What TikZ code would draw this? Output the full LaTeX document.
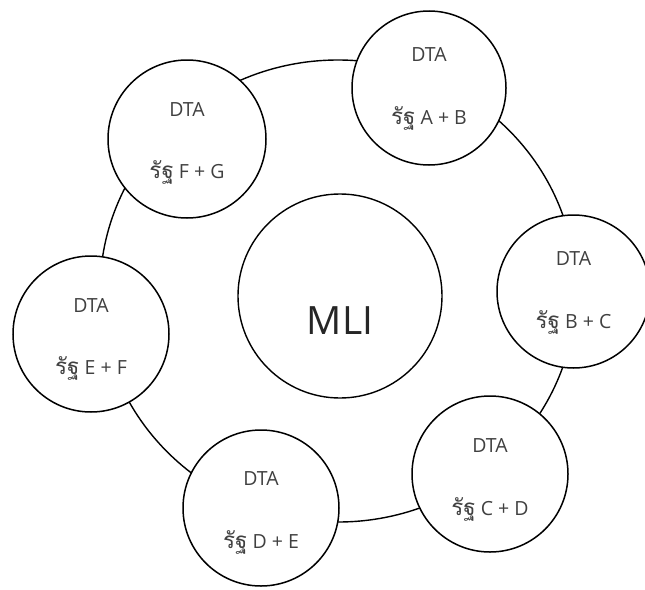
\documentclass[tikz,border=0pt]{standalone}
\usepackage{fontspec}
\setmainfont{Open Sans}
\newfontfamily\thaifont[Script=Thai,Scale=1.15]{Loma}
\usetikzlibrary{calc}
\begin{document}
\begin{tikzpicture}[x=1pt,y=-1pt,
  pact/.style={circle,draw=black,line width=1.5pt,fill=white,inner sep=0pt,minimum size=#1},
  hub/.style={circle,draw=black,line width=1.4pt,fill=white,inner sep=0pt,minimum size=204pt},
  ringline/.style={draw=black,line width=1.4pt},
  lbl/.style={text=black!75,font=\fontsize{19.5}{22}\selectfont,inner sep=0pt},
  biglbl/.style={text=black!85,font=\fontsize{39}{44}\selectfont,inner sep=0pt}]
\useasboundingbox (0,0) rectangle (645,589);
% the ring joining the bilateral agreements
\draw[ringline] (338,291) ellipse [x radius=238pt, y radius=231pt];
% central multilateral instrument
\node[hub] (mli) at (340,296) {};
\node[biglbl] (mlitext) at (340,321) {MLI};
% bilateral agreements around the ring
\node[pact=154pt] (ab) at (429,88) {};
\node[pact=153pt] (bc) at (573.5,291.5) {};
\node[pact=156pt] (cd) at (490,474) {};
\node[pact=156pt] (de) at (261,508) {};
\node[pact=156pt] (ef) at (91,334) {};
\node[pact=158pt] (fg) at (187,139) {};
% labels
\foreach \n/\a/\b/\u/\d in {ab/A/B/33/30, bc/B/C/33/31, cd/C/D/28/35, de/D/E/29/34, ef/E/F/28/34, fg/F/G/29/33}{
  \node[lbl] (\n-top) at ($(\n)+(0,-\u)$) {DTA};
  \node[lbl] (\n-bot) at ($(\n)+(0,\d)$) {{\thaifont รัฐ} \a\ + \b};
}
\end{tikzpicture}
\end{document}
